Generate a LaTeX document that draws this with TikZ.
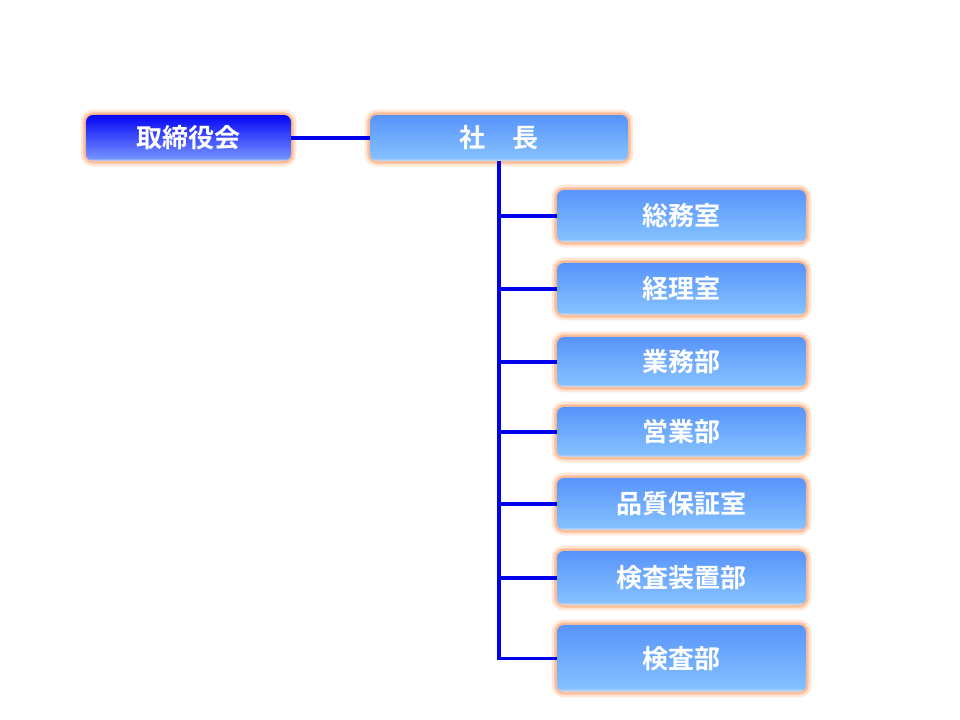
\documentclass[tikz,border=0pt]{standalone}
\usepackage{fontspec}
\newfontfamily\jpfont{Noto Sans CJK JP}[BoldFont={Noto Sans CJK JP Bold}]
\definecolor{linkblue}{RGB}{0,0,235}
\definecolor{glowout}{RGB}{255,230,215}
\definecolor{glowin}{RGB}{255,190,150}
\definecolor{boardtop}{RGB}{5,5,245}
\definecolor{boardlow}{RGB}{115,145,255}
\definecolor{depttop}{RGB}{88,148,250}
\definecolor{deptlow}{RGB}{132,192,255}
\definecolor{boxedge}{RGB}{222,222,230}
\pgfdeclareverticalshading{boardfade}{100bp}{color(0bp)=(boxedge); color(25bp)=(boxedge); color(28bp)=(boardlow); color(75bp)=(boardtop); color(100bp)=(boardtop)}
\pgfdeclareverticalshading{deptfade}{100bp}{color(0bp)=(boxedge); color(25bp)=(boxedge); color(28bp)=(deptlow); color(75bp)=(depttop); color(100bp)=(depttop)}
\tikzset{
  orgbox/.style={rounded corners=5pt, inner sep=0pt, text=white,
    font=\jpfont\bfseries\fontsize{18.5}{22}\selectfont,
    preaction={draw=glowout, line width=7.5pt},
    preaction={draw=glowin, line width=3.6pt},
    shade, shading=deptfade},
  boardbox/.style={orgbox, shading=boardfade},
  link/.style={draw=linkblue, line width=2.8pt}
}
\begin{document}
\begin{tikzpicture}[x=0.025cm, y=-0.025cm]
    \useasboundingbox[fill=white] (0, 0) rectangle (960, 720);

    \node[boardbox, minimum width=5.125cm, minimum height=1.15cm] (board) at (188.5, 138) {取締役会};
    \node[orgbox, minimum width=6.45cm, minimum height=1.15cm] (president) at (499, 138) {社　長};

    \node[orgbox, minimum width=6.225cm, minimum height=1.3cm] (general) at (681.5, 216) {総務室};
    \node[orgbox, minimum width=6.225cm, minimum height=1.3cm] (accounting) at (681.5, 289) {経理室};
    \node[orgbox, minimum width=6.225cm, minimum height=1.25cm] (operations) at (681.5, 362) {業務部};
    \node[orgbox, minimum width=6.225cm, minimum height=1.25cm] (sales) at (681.5, 432) {営業部};
    \node[orgbox, minimum width=6.225cm, minimum height=1.3cm] (quality) at (681.5, 504) {品質保証室};
    \node[orgbox, minimum width=6.225cm, minimum height=1.35cm] (equipment) at (681.5, 578) {検査装置部};
    \node[orgbox, minimum width=6.225cm, minimum height=1.675cm] (inspection) at (681.5, 658.5) {検査部};

    \draw[link] (board.east) -- (president.west);
    \draw[link] (president.south) -- (president.south |- inspection.west) -- (inspection.west);
    \draw[link] (president.south |- general.west) -- (general.west);
    \draw[link] (president.south |- accounting.west) -- (accounting.west);
    \draw[link] (president.south |- operations.west) -- (operations.west);
    \draw[link] (president.south |- sales.west) -- (sales.west);
    \draw[link] (president.south |- quality.west) -- (quality.west);
    \draw[link] (president.south |- equipment.west) -- (equipment.west);
  \end{tikzpicture}
\end{document}
